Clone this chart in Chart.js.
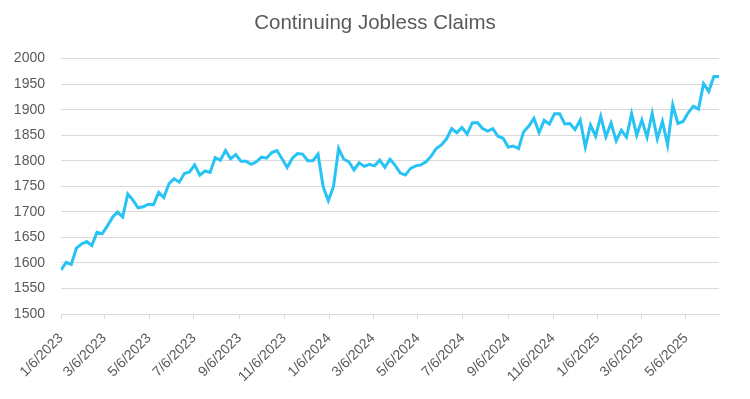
<!DOCTYPE html>
<html>
<head>
<meta charset="utf-8">
<title>Continuing Jobless Claims</title>
<script src="https://cdn.jsdelivr.net/npm/chart.js@4.4.0/dist/chart.umd.min.js"></script>
<style>
  html, body { margin: 0; padding: 0; background: #ffffff; }
  #wrap { width: 750px; height: 399px; position: relative; }
</style>
</head>
<body>
<div id="wrap"><canvas id="myChart"></canvas></div>
<script>
// Dados: semanas a partir de 1/6/2023
const startDate = '1/6/2023';
const claims = [
  1586, 1601, 1597, 1629, 1637, 1642, 1634, 1660, 1657, 1672,
  1689, 1700, 1690, 1735, 1723, 1708, 1710, 1715, 1714, 1738,
  1728, 1755, 1765, 1758, 1775, 1778, 1792, 1772, 1780, 1777,
  1806, 1801, 1820, 1804, 1812, 1799, 1799, 1793, 1798, 1807,
  1805, 1816, 1820, 1804, 1787, 1805, 1814, 1813, 1800, 1800,
  1813, 1749, 1722, 1749, 1824, 1803, 1798, 1782, 1796, 1789,
  1793, 1790, 1801, 1787, 1803, 1791, 1776, 1772, 1785, 1790,
  1792, 1798, 1809, 1824, 1831, 1843, 1863, 1855, 1865, 1852,
  1874, 1875, 1863, 1858, 1863, 1848, 1844, 1827, 1829, 1824,
  1857, 1868, 1883, 1855, 1879, 1872, 1892, 1892, 1872, 1873,
  1861, 1880, 1827, 1870, 1848, 1887, 1847, 1874, 1839, 1860,
  1846, 1892, 1850, 1880, 1846, 1893, 1843, 1877, 1831, 1909,
  1873, 1877, 1894, 1907, 1901, 1951, 1936, 1965, 1965
];
const tickLabels = [
  '1/6/2023', '3/6/2023', '5/6/2023', '7/6/2023', '9/6/2023', '11/6/2023',
  '1/6/2024', '3/6/2024', '5/6/2024', '7/6/2024', '9/6/2024', '11/6/2024',
  '1/6/2025', '3/6/2025', '5/6/2025'
];
const yTicks = { min: 1500, max: 2000, step: 50 };

const FONT = '"Liberation Sans", Arial, sans-serif';
const TEXT = '#595959';
const GRID = '#d9d9d9';

// dias desde a data inicial
function toDay(s) {
  const p = s.split('/').map(Number);
  return Math.round((Date.UTC(p[2], p[0] - 1, p[1]) - Date.UTC(2023, 0, 6)) / 86400000);
}
const base = toDay(startDate);
const tickDays = tickLabels.map(toDay);
const points = claims.map((v, i) => ({ x: base + i * 7, y: v }));

const ctx = document.getElementById('myChart').getContext('2d');
const chart = new Chart(ctx, {
  type: 'line',
  data: {
    datasets: [{
      label: 'Continuing Jobless Claims',
      data: points,
      borderColor: '#27c3f4',
      borderWidth: 3,
      pointRadius: 0,
      tension: 0,
      fill: false
    }]
  },
  options: {
    responsive: true,
    maintainAspectRatio: false,
    animation: false,
    layout: { padding: 0 },
    plugins: {
      legend: { display: false },
      tooltip: { enabled: false },
      title: {
        display: true,
        text: 'Continuing Jobless Claims',
        color: TEXT,
        font: { family: FONT, size: 20.5, weight: 'normal' },
        padding: { top: 11, bottom: 23 }
      }
    },
    scales: {
      x: {
        type: 'linear',
        min: base,
        max: points[points.length - 1].x,
        afterBuildTicks: (scale) => {
          scale.ticks = tickDays.map(d => ({ value: d }));
        },
        afterFit: (scale) => { scale.height = 85; },
        grid: {
          drawOnChartArea: false,
          drawTicks: true,
          tickLength: 5,
          color: GRID
        },
        border: { display: true, color: GRID },
        ticks: {
          autoSkip: false,
          minRotation: 45,
          maxRotation: 45,
          padding: 11,
          color: TEXT,
          font: { family: FONT, size: 14 },
          callback: (v) => {
            const k = tickDays.indexOf(v);
            return k >= 0 ? tickLabels[k] : '';
          }
        }
      },
      y: {
        min: yTicks.min,
        max: yTicks.max,
        afterFit: (scale) => { scale.width = 61; },
        grid: { color: GRID, drawTicks: false, lineWidth: 1 },
        border: { display: false },
        ticks: {
          stepSize: yTicks.step,
          padding: 16,
          color: TEXT,
          font: { family: FONT, size: 14 },
          callback: (v) => String(v)
        }
      },
      // eixo vazio à direita só para reservar a margem
      yRight: {
        position: 'right',
        min: yTicks.min,
        max: yTicks.max,
        afterFit: (scale) => { scale.width = 31; },
        grid: { drawOnChartArea: false, drawTicks: false },
        border: { display: false },
        ticks: { display: false }
      }
    }
  }
});
</script>
</body>
</html>
